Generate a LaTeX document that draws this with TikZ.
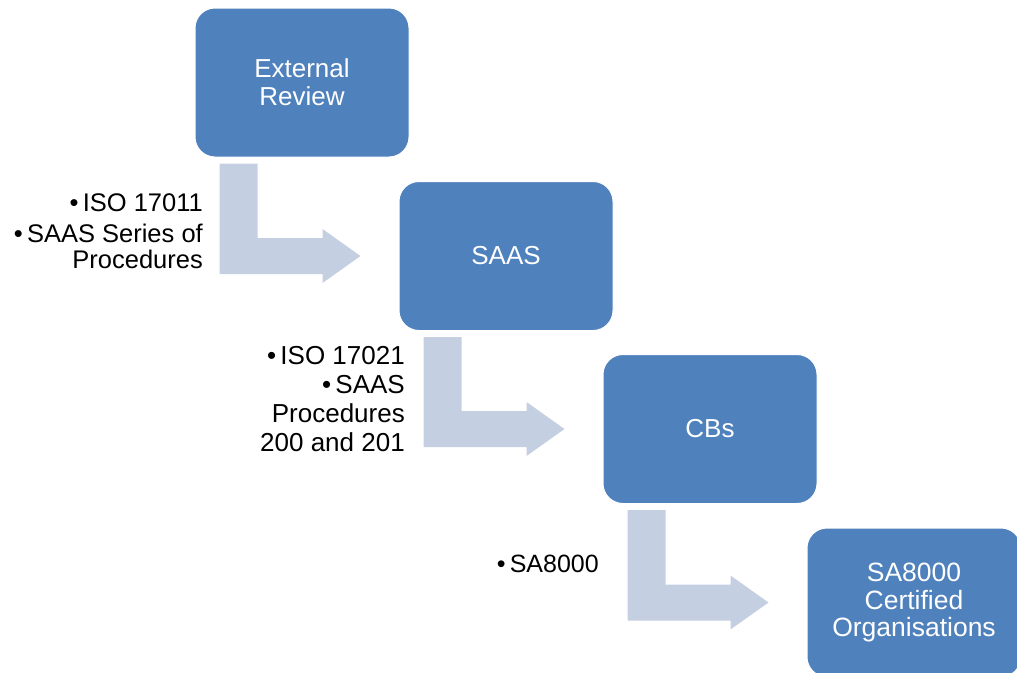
\documentclass[tikz,border=0pt]{standalone}
\usepackage{fontspec}
\setmainfont{Liberation Sans}
\usetikzlibrary{calc}
\definecolor{boxblue}{HTML}{4F81BD}
\definecolor{arrowfill}{HTML}{C5CFE2}
\tikzset{
  stepbox/.style={rectangle, rounded corners=20pt, fill=boxblue, draw=white, line width=1pt,
    minimum width=214pt, minimum height=149pt, text=white, align=center, inner sep=0pt,
    font=\fontsize{26}{28}\selectfont},
  lbl/.style={align=right, inner sep=0pt, anchor=north east, text=black},
  bentarrow/.style={fill=arrowfill}
}
\newcommand{\bentarr}[2]{%
  \fill[bentarrow] let \p1=($(#1.south west)+(25,6)$), \p2=($(#2.west)+(-38,0)$) in
    (\x1,\y1) -- (\x1+38pt,\y1) -- (\x1+38pt,\y2+18pt) -- (\x2-38pt,\y2+18pt)
    -- (\x2-38pt,\y2+27pt) -- (\x2,\y2) -- (\x2-38pt,\y2-27pt) -- (\x2-38pt,\y2-18pt)
    -- (\x1,\y2-18pt) -- cycle;}
\begin{document}
\begin{tikzpicture}[x=1pt,y=-1pt]
\useasboundingbox (0,0) rectangle (1017,672);
\clip (0,0) rectangle (1017,672);
\node[stepbox] (b1) at (302,82.5) {External\\Review};
\node[stepbox] (b2) at (506,256) {SAAS};
\node[stepbox] (b3) at (710,429) {CBs};
\node[stepbox, font=\fontsize{26.5}{27.5}\selectfont] (b4) at (914,602.5) {SA8000\\Certified\\Organisations};
\bentarr{b1}{b2}
\bentarr{b2}{b3}
\bentarr{b3}{b4}
\node[lbl, font=\fontsize{25.5}{26}\selectfont] (l1) at (203,193.5) {\textbullet\,ISO 17011\\[5pt]\textbullet\,SAAS Series of\\Procedures};
\node[lbl, font=\fontsize{26}{29}\selectfont] (l2) at (405,346) {\textbullet\,ISO 17021\\\textbullet\,SAAS\\Procedures\\200 and 201};
\node[lbl, font=\fontsize{25}{29}\selectfont] (l3) at (599,555) {\textbullet\,SA8000};
\end{tikzpicture}
\end{document}
